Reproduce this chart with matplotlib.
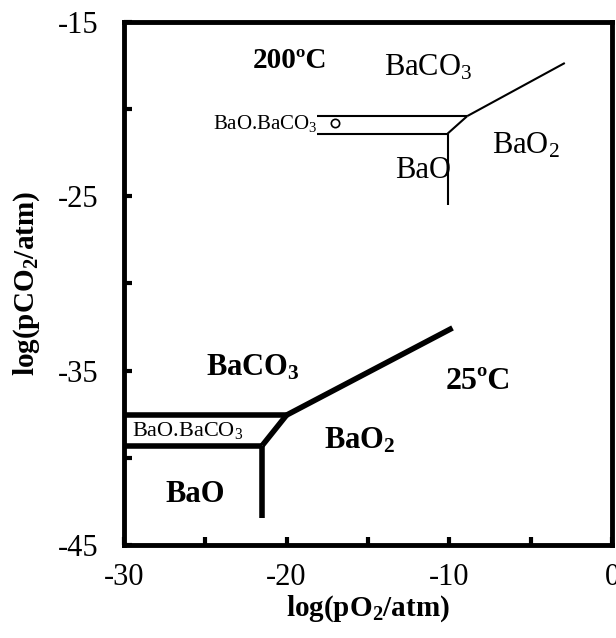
import matplotlib.pyplot as plt
from matplotlib.ticker import MultipleLocator

plt.rcParams['font.family'] = ['Liberation Serif', 'DejaVu Serif']
plt.rcParams['mathtext.fontset'] = 'custom'
plt.rcParams['mathtext.rm'] = 'Liberation Serif'
plt.rcParams['mathtext.bf'] = 'Liberation Serif:bold'
plt.rcParams['mathtext.it'] = 'Liberation Serif:italic'
plt.rcParams['axes.unicode_minus'] = False

# 200 C boundaries (thin)
hot_top_x = [-18.1, -8.9]
hot_top_y = [-20.4, -20.4]
hot_low_x = [-18.1, -10.1]
hot_low_y = [-21.4, -21.4]
hot_diag_x = [-10.1, -8.9]
hot_diag_y = [-21.4, -20.4]
hot_vert_x = [-10.1, -10.1]
hot_vert_y = [-21.4, -25.5]
hot_ox_x = [-8.9, -2.9]
hot_ox_y = [-20.4, -17.35]
point_x = [-17.0]
point_y = [-20.8]

# 25 C boundaries (thick)
cold_top_x = [-30, -20.0]
cold_top_y = [-37.55, -37.55]
cold_low_x = [-30, -21.5]
cold_low_y = [-39.3, -39.3]
cold_diag_x = [-21.5, -20.0]
cold_diag_y = [-39.3, -37.55]
cold_vert_x = [-21.5, -21.5]
cold_vert_y = [-39.3, -43.45]
cold_ox_x = [-20.0, -9.8]
cold_ox_y = [-37.55, -32.55]

fig = plt.figure(figsize=(6.16, 6.38), dpi=100)
ax = fig.add_axes([0.201, 0.1458, 0.7925, 0.8197])

for xs, ys in [(hot_top_x, hot_top_y), (hot_low_x, hot_low_y), (hot_diag_x, hot_diag_y),
               (hot_vert_x, hot_vert_y), (hot_ox_x, hot_ox_y)]:
    ax.plot(xs, ys, color='black', lw=1.5, solid_capstyle='butt')
ax.plot(point_x, point_y, 'o', mfc='white', mec='black', ms=6, mew=1.2)

for xs, ys in [(cold_top_x, cold_top_y), (cold_low_x, cold_low_y), (cold_diag_x, cold_diag_y),
               (cold_vert_x, cold_vert_y), (cold_ox_x, cold_ox_y)]:
    ax.plot(xs, ys, color='black', lw=4, solid_capstyle='butt')

# labels, 200 C
ax.text(-19.8, -17.2, '200ºC', fontsize=21, fontweight='bold', ha='center', va='center')
ax.text(-11.3, -17.6, 'BaCO$_3$', fontsize=22, ha='center', va='center')
ax.text(-18.1, -20.85, 'BaO.BaCO$_3$', fontsize=15, ha='right', va='center')
ax.text(-11.6, -23.5, 'BaO', fontsize=22, ha='center', va='center')
ax.text(-5.3, -22.1, 'BaO$_2$', fontsize=22, ha='center', va='center')

# labels, 25 C
ax.text(-22.1, -34.85, r'BaCO$_\mathbf{3}$', fontsize=22, fontweight='bold', ha='center', va='center')
ax.text(-8.2, -35.6, '25ºC', fontsize=23, fontweight='bold', ha='center', va='center')
ax.text(-29.5, -38.45, 'BaO.BaCO$_3$', fontsize=16, ha='left', va='center')
ax.text(-15.5, -39.0, r'BaO$_\mathbf{2}$', fontsize=22, fontweight='bold', ha='center', va='center')
ax.text(-25.6, -42.1, 'BaO', fontsize=22, fontweight='bold', ha='center', va='center')

ax.set_xlim(-30, 0)
ax.set_ylim(-45, -15)
ax.xaxis.set_major_locator(MultipleLocator(10))
ax.xaxis.set_minor_locator(MultipleLocator(5))
ax.yaxis.set_minor_locator(MultipleLocator(5))
ax.set_yticks([-45, -35, -25, -15])
ax.tick_params(which='both', direction='in', length=6, width=3, labelsize=22)
ax.tick_params(axis='x', pad=13)
ax.tick_params(axis='y', pad=18)
for sp in ax.spines.values():
    sp.set_linewidth(3.5)

ax.set_xlabel(r'log(pO$_\mathbf{2}$/atm)', fontsize=21, fontweight='bold', labelpad=1)
ax.set_ylabel(r'log(pCO$_\mathbf{2}$/atm)', fontsize=21, fontweight='bold', labelpad=12)

fig.savefig('out.png', dpi=100)
